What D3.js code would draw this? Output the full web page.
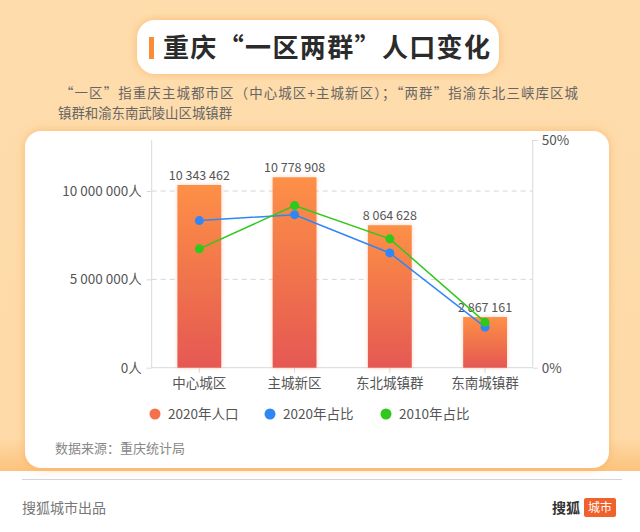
<!DOCTYPE html>
<html><head><meta charset="utf-8">
<script src="https://cdn.jsdelivr.net/npm/d3@7"></script>
<style>
html,body{margin:0;padding:0;background:#fff;}
svg{display:block;font-family:"Noto Sans CJK SC","Noto Sans",sans-serif;}
</style></head>
<body>
<svg id="c" width="640" height="532"></svg>
<script>
const categories = ["中心城区", "主城新区", "东北城镇群", "东南城镇群"];
const population2020 = [10343462, 10778908, 8064628, 2867161];
const share2020 = [32.3, 33.6, 25.2, 8.9];
const share2010 = [26.1, 35.6, 28.3, 10.0];
const leftTicks = [0, 5000000, 10000000];
const rightTicks = [0, 50];
const legendItems = ["2020年人口", "2020年占比", "2010年占比"];

const svg = d3.select("#c");
const defs = svg.append("defs");

// background
const bgGrad = defs.append("linearGradient").attr("id","bg").attr("x1",0).attr("y1",0).attr("x2",0).attr("y2",1);
bgGrad.append("stop").attr("offset","0%").attr("stop-color","#fedcac");
bgGrad.append("stop").attr("offset","93%").attr("stop-color","#fedaa8");
bgGrad.append("stop").attr("offset","100%").attr("stop-color","#fcc27c");
svg.append("rect").attr("x",0).attr("y",0).attr("width",640).attr("height",471).attr("fill","url(#bg)");
svg.append("rect").attr("x",0).attr("y",471).attr("width",640).attr("height",61).attr("fill","#fff");

const sh = defs.append("filter").attr("id","sh").attr("x","-10%").attr("y","-10%").attr("width","120%").attr("height","120%");
sh.append("feDropShadow").attr("dx",0).attr("dy",0).attr("stdDeviation",5).attr("flood-color","#f7a04a").attr("flood-opacity",0.55);

// title box
svg.append("rect").attr("x",137).attr("y",20).attr("width",362).attr("height",54).attr("rx",18)
  .attr("fill","#fff").attr("filter","url(#sh)");
svg.append("rect").attr("x",149).attr("y",37).attr("width",5).attr("height",22).attr("fill","#f98b3a");
svg.append("text").attr("x",163).attr("y",57).attr("font-size",26).attr("font-weight","bold")
  .attr("fill","#2b2b2b").attr("textLength",327).attr("lengthAdjust","spacing").text("重庆“一区两群”人口变化");

// subtitle
svg.append("text").attr("x",60).attr("y",98).attr("font-size",13.4).attr("fill","#666")
  .attr("textLength",518).attr("lengthAdjust","spacing")
  .text("“一区”指重庆主城都市区（中心城区+主城新区）；“两群”指渝东北三峡库区城");
svg.append("text").attr("x",58).attr("y",118).attr("font-size",13.4).attr("fill","#666")
  .text("镇群和渝东南武陵山区城镇群");

// card
svg.append("rect").attr("x",25).attr("y",131).attr("width",584).attr("height",337).attr("rx",16)
  .attr("fill","#fff").attr("filter","url(#sh)");

// scales
const x0 = 151.7, x1 = 532.7, yBot = 367.7, yTop = 140;
const x = d3.scaleBand().domain(categories).range([x0, x1]).paddingInner(0).paddingOuter(0);
const yL = d3.scaleLinear().domain([0, 12890000]).range([yBot, yTop]);
const yR = d3.scaleLinear().domain([0, 50]).range([yBot, yTop]);
const bw = x.bandwidth() * 0.46;
const cx = c => x(c) + x.bandwidth() / 2;

// grid
const g = svg.append("g");
g.selectAll("line.grid").data(leftTicks.filter(d => d > 0)).join("line")
  .attr("x1", x0).attr("x2", x1).attr("y1", d => yL(d)).attr("y2", d => yL(d))
  .attr("stroke","#d6d6d6").attr("stroke-dasharray","5,4").attr("stroke-width",1);

// left axis
const fmtSp = v => d3.format(",")(v).replace(/,/g, " ");
const axL = d3.axisLeft(yL).tickValues(leftTicks).tickFormat(d => fmtSp(d) + "人").tickSize(5).tickPadding(5);
const gL = svg.append("g").attr("transform", `translate(${x0},0)`).call(axL);
gL.select(".domain").attr("stroke","#d9d9d9").attr("d", `M-0,${yBot}V${yTop}`);
gL.selectAll(".tick line").attr("stroke","#d9d9d9");
gL.selectAll(".tick text").attr("fill","#555").attr("font-size",13.5).attr("font-family","'Noto Sans CJK SC',sans-serif");

// right axis
const axR = d3.axisRight(yR).tickValues(rightTicks).tickFormat(d => d + "%").tickSize(5).tickPadding(4);
const gR = svg.append("g").attr("transform", `translate(${x1},0)`).call(axR);
gR.select(".domain").attr("stroke","#d9d9d9").attr("d", `M0,${yBot}V${yTop}`);
gR.selectAll(".tick line").attr("stroke","#d9d9d9");
gR.selectAll(".tick text").attr("fill","#555").attr("font-size",13.5).attr("font-family","'Noto Sans CJK SC',sans-serif");

// bottom axis
const axB = d3.axisBottom(x).tickSize(5).tickPadding(6);
const gB = svg.append("g").attr("transform", `translate(0,${yBot})`).call(axB);
gB.select(".domain").attr("stroke","#d9d9d9").attr("d", `M${x0},0H${x1}`);
gB.selectAll(".tick line").attr("stroke","#d9d9d9");
gB.selectAll(".tick text").attr("fill","#555").attr("font-size",13.5).attr("font-family","'Noto Sans CJK SC',sans-serif");

// bars
const barGrad = defs.append("linearGradient").attr("id","bar").attr("x1",0).attr("y1",0).attr("x2",0).attr("y2",1);
barGrad.append("stop").attr("offset","0%").attr("stop-color","#fd9046");
barGrad.append("stop").attr("offset","100%").attr("stop-color","#e55853");
const bsh = defs.append("filter").attr("id","bsh").attr("x","-30%").attr("y","-10%").attr("width","160%").attr("height","120%");
bsh.append("feDropShadow").attr("dx",0).attr("dy",0).attr("stdDeviation",2).attr("flood-color","#f08050").attr("flood-opacity",0.35);

svg.append("g").selectAll("rect").data(categories).join("rect")
  .attr("x", c => cx(c) - bw / 2).attr("width", bw)
  .attr("y", (c, i) => yL(population2020[i])).attr("height", (c, i) => yBot - yL(population2020[i]))
  .attr("fill","url(#bar)").attr("filter","url(#bsh)");

svg.append("g").selectAll("text").data(categories).join("text")
  .attr("x", c => cx(c)).attr("y", (c, i) => yL(population2020[i]) - 5)
  .attr("text-anchor","middle").attr("font-size",12.5).attr("fill","#555")
  .text((c, i) => fmtSp(population2020[i]));

// lines
function drawLine(vals, color) {
  const line = d3.line().x((d, i) => cx(categories[i])).y(d => yR(d));
  svg.append("path").datum(vals).attr("d", line).attr("fill","none")
    .attr("stroke", color).attr("stroke-width",1.5);
  svg.append("g").selectAll("circle").data(vals).join("circle")
    .attr("cx", (d, i) => cx(categories[i])).attr("cy", d => yR(d)).attr("r",4.5).attr("fill", color);
}
drawLine(share2020, "#2f87f5");
drawLine(share2010, "#2fc81c");

// legend
const legColors = ["#f4714b", "#2f87f5", "#2fc81c"];
const legX = [155, 270, 386];
const lg = svg.append("g").selectAll("g").data(legendItems).join("g")
  .attr("transform", (d, i) => `translate(${legX[i]},414)`);
lg.append("circle").attr("r",5.5).attr("fill", (d, i) => legColors[i]);
lg.append("text").attr("x",13).attr("y",5).attr("font-size",13.5).attr("fill","#555").text(d => d);

// source
svg.append("text").attr("x",55).attr("y",453).attr("font-size",13).attr("fill","#888").text("数据来源：重庆统计局");

// footer
svg.append("line").attr("x1",22).attr("x2",622).attr("y1",479.5).attr("y2",479.5).attr("stroke","#d4d4d4").attr("stroke-width",1.2);
svg.append("text").attr("x",22).attr("y",513).attr("font-size",14).attr("fill","#777").text("搜狐城市出品");
svg.append("text").attr("x",552).attr("y",513).attr("font-size",14).attr("font-weight","bold").attr("fill","#333").text("搜狐");
svg.append("rect").attr("x",584).attr("y",498).attr("width",32).attr("height",19).attr("rx",2).attr("fill","#f0612b");
svg.append("text").attr("x",600).attr("y",512).attr("text-anchor","middle").attr("font-size",12).attr("fill","#fff").text("城市");
</script>
</body></html>
